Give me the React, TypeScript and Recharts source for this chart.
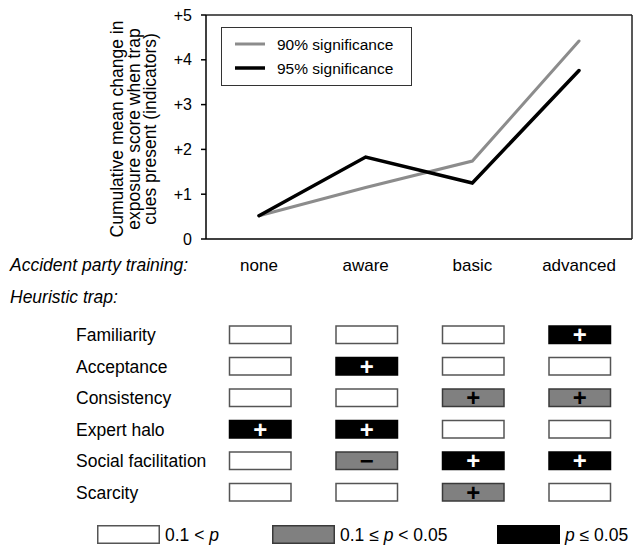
import React from 'react';
import {
    LineChart,
    Line,
    XAxis,
    YAxis,
    Legend,
    Label,
    ScatterChart,
    Scatter,
} from 'recharts';

// top panel: cumulative mean change per training level
const training = ['none', 'aware', 'basic', 'advanced'];
const sig90 = [0.52, 1.15, 1.74, 4.42];
const sig95 = [0.52, 1.83, 1.25, 3.76];
const seriesNames = ['90% significance', '95% significance'];
const yTicks = [0, 1, 2, 3, 4, 5];

// bottom panel: heuristic traps
// n = 0.1 < p, g = 0.1 <= p < 0.05, b = p <= 0.05, followed by the sign
const traps = ['Familiarity', 'Acceptance', 'Consistency', 'Expert halo', 'Social facilitation', 'Scarcity'];
const familiarity = ['n', 'n', 'n', 'b+'];
const acceptance = ['n', 'b+', 'n', 'n'];
const consistency = ['n', 'n', 'g+', 'g+'];
const expertHalo = ['b+', 'b+', 'n', 'n'];
const socialFacilitation = ['n', 'g-', 'b+', 'b+'];
const scarcity = ['n', 'n', 'g+', 'n'];
const trapRows = [familiarity, acceptance, consistency, expertHalo, socialFacilitation, scarcity];

const sigLevels = ['n', 'g', 'b'];
const sigLabels = ['0.1 < p', '0.1 ≤ p < 0.05', 'p ≤ 0.05'];

const FONT = '"Liberation Sans", Arial, Helvetica, sans-serif';
const TEXT_SIZE = 17.5;

const lineData = training.map((t, i) => ({ training: t, sig90: sig90[i], sig95: sig95[i] }));
const cells = trapRows.flatMap((row, r) => row.map((code, c) => ({ x: c, y: r, code })));
const trapTicks = traps.map((_, i) => i);

const boxFill: Record<string, string> = { n: '#ffffff', g: '#808080', b: '#000000' };
const boxStroke: Record<string, string> = { n: '#555555', g: '#3a3a3a', b: '#000000' };
const legendX = [97, 272, 497];
const frameLine = { stroke: '#222', strokeWidth: 1.5 };

function YTitle() {
    return (
        <text
            transform="translate(123,129) rotate(-90)"
            textAnchor="middle"
            fontSize={TEXT_SIZE}
            fill="#000"
        >
            <tspan x={0} y={0}>Cumulative mean change in</tspan>
            <tspan x={0} y={16.5}>exposure score when trap</tspan>
            <tspan x={0} y={33}>cues present (indicators)</tspan>
        </text>
    );
}

function TrainingTitle() {
    return (
        <text x={10} y={271} fontSize={TEXT_SIZE} fontStyle="italic" fill="#000">
            Accident party training:
        </text>
    );
}

function TrapTitle() {
    return (
        <text x={10} y={23} fontSize={TEXT_SIZE} fontStyle="italic" fill="#000">
            Heuristic trap:
        </text>
    );
}

function TrapTick(props: any) {
    const { y, payload } = props;
    return (
        <text x={76} y={y} dy={6.3} fontSize={TEXT_SIZE} fill="#000" textAnchor="start">
            {traps[payload.value]}
        </text>
    );
}

function CellBox(props: any) {
    const { cx, cy, payload } = props;
    const level = payload.code[0];
    const sign = payload.code.slice(1);
    return (
        <g>
            <rect
                x={cx - 30.75 + 1}
                y={cy - 8.75}
                width={61.5}
                height={17.5}
                fill={boxFill[level]}
                stroke={boxStroke[level]}
                strokeWidth={1.5}
            />
            {sign && (
                <text
                    x={cx + 1}
                    y={cy}
                    textAnchor="middle"
                    dominantBaseline="central"
                    fontSize={24}
                    fontWeight="bold"
                    fill={level === 'b' ? '#fff' : '#000'}
                >
                    {sign === '-' ? '−' : '+'}
                </text>
            )}
        </g>
    );
}

function LineLegend() {
    const colors = ['#8c8c8c', '#000000'];
    const widths = [3, 3.5];
    return (
        <svg width={191} height={59} style={{ display: 'block' }}>
            <rect x={0.5} y={0.5} width={190} height={58} fill="#fff" stroke="#333" strokeWidth={1} />
            {seriesNames.map((name, i) => (
                <g key={name}>
                    <line x1={14} x2={44} y1={17 + i * 24} y2={17 + i * 24} stroke={colors[i]} strokeWidth={widths[i]} />
                    <text x={56} y={22.5 + i * 24} fontSize={15.5} fill="#000">
                        {name}
                    </text>
                </g>
            ))}
        </svg>
    );
}

function withItalicP(label: string) {
    const parts = label.split('p');
    return parts.flatMap((part, i) =>
        i === 0
            ? [<tspan key={`t${i}`}>{part}</tspan>]
            : [
                  <tspan key={`p${i}`} fontStyle="italic">p</tspan>,
                  <tspan key={`t${i}`}>{part}</tspan>,
              ]
    );
}

function SigLegend() {
    return (
        <svg width={634} height={21} style={{ display: 'block' }}>
            {sigLevels.map((lv, i) => (
                <g key={lv}>
                    <rect
                        x={legendX[i] + 0.75}
                        y={0.75}
                        width={61.5}
                        height={17.5}
                        fill={boxFill[lv]}
                        stroke={boxStroke[lv]}
                        strokeWidth={1.5}
                    />
                    <text x={legendX[i] + 68} y={16} fontSize={TEXT_SIZE} fill="#000">
                        {withItalicP(sigLabels[i])}
                    </text>
                </g>
            ))}
        </svg>
    );
}

export default function App() {
    return (
        <div
            style={{
                position: 'absolute',
                left: 0,
                top: 0,
                width: 634,
                height: 546,
                background: '#fff',
                fontFamily: FONT,
            }}
        >
            <LineChart
                width={634}
                height={280}
                data={lineData}
                margin={{ top: 14, right: 1, bottom: 0, left: 0 }}
            >
                <XAxis
                    dataKey="training"
                    scale="point"
                    padding={{ left: 53, right: 53 }}
                    height={41}
                    tickLine={false}
                    tickSize={0}
                    tickMargin={20}
                    axisLine={{ stroke: '#000', strokeWidth: 1.5 }}
                    tick={{ fill: '#000', fontSize: 17 }}
                >
                    <Label content={<TrainingTitle />} />
                </XAxis>
                <XAxis
                    xAxisId="frameTop"
                    orientation="top"
                    dataKey="training"
                    scale="point"
                    padding={{ left: 53, right: 53 }}
                    height={1}
                    tick={false}
                    tickLine={false}
                    axisLine={frameLine}
                />
                <YAxis
                    width={206}
                    domain={[0, 5]}
                    ticks={yTicks}
                    interval={0}
                    tickFormatter={(v) => (v === 0 ? '0' : `+${v}`)}
                    tickSize={5}
                    tickMargin={9}
                    axisLine={{ stroke: '#000', strokeWidth: 1.5 }}
                    tickLine={{ stroke: '#000', strokeWidth: 1.5 }}
                    tick={{ fill: '#000', fontSize: 16 }}
                >
                    <Label content={<YTitle />} />
                </YAxis>
                <YAxis
                    yAxisId="frameRight"
                    orientation="right"
                    width={1}
                    domain={[0, 5]}
                    tick={false}
                    tickLine={false}
                    axisLine={frameLine}
                />
                <Legend
                    layout="horizontal"
                    verticalAlign="middle"
                    align="center"
                    wrapperStyle={{ left: 221, top: 27, width: 191, height: 59 }}
                    content={() => <LineLegend />}
                />
                <Line
                    dataKey="sig90"
                    name={seriesNames[0]}
                    stroke="#8c8c8c"
                    strokeWidth={3}
                    strokeLinecap="round"
                    dot={false}
                    isAnimationActive={false}
                />
                <Line
                    dataKey="sig95"
                    name={seriesNames[1]}
                    stroke="#000"
                    strokeWidth={3.5}
                    strokeLinecap="round"
                    dot={false}
                    isAnimationActive={false}
                />
            </LineChart>
            <ScatterChart
                width={634}
                height={266}
                margin={{ top: 39, right: 2, bottom: 38, left: 0 }}
            >
                <XAxis type="number" dataKey="x" domain={[-0.5, 3.5]} hide />
                <YAxis
                    type="number"
                    dataKey="y"
                    domain={[-0.5, 5.5]}
                    reversed
                    ticks={trapTicks}
                    interval={0}
                    width={206}
                    axisLine={false}
                    tickLine={false}
                    tick={<TrapTick />}
                >
                    <Label content={<TrapTitle />} />
                </YAxis>
                <Legend
                    layout="horizontal"
                    verticalAlign="middle"
                    align="center"
                    wrapperStyle={{ left: 0, top: 245, width: 634, height: 21 }}
                    content={() => <SigLegend />}
                />
                <Scatter data={cells} shape={<CellBox />} isAnimationActive={false} />
            </ScatterChart>
        </div>
    );
}
